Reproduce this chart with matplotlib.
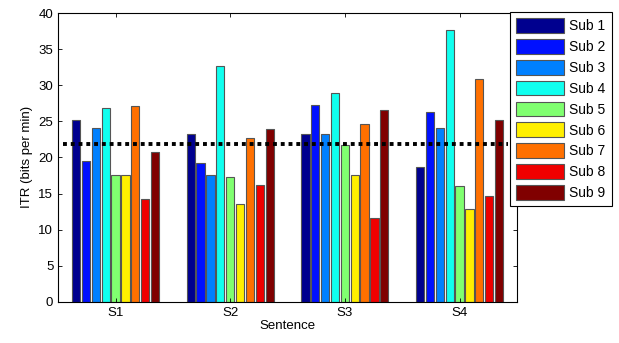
import matplotlib
matplotlib.use("Agg")
import matplotlib.pyplot as plt
import numpy as np

plt.rcParams["font.family"] = ["Liberation Sans", "DejaVu Sans"]

sentences = ["S1", "S2", "S3", "S4"]
subjects = ["Sub 1", "Sub 2", "Sub 3", "Sub 4", "Sub 5", "Sub 6", "Sub 7", "Sub 8", "Sub 9"]
# ITR per subject, one list per sentence
itr_s1 = [25.2, 19.5, 24.1, 26.9, 17.5, 17.6, 27.1, 14.2, 20.7]
itr_s2 = [23.3, 19.2, 17.5, 32.7, 17.3, 13.6, 22.7, 16.2, 24.0]
itr_s3 = [23.2, 27.2, 23.3, 28.9, 21.7, 17.5, 24.7, 11.6, 26.6]
itr_s4 = [18.7, 26.3, 24.1, 37.6, 16.1, 12.8, 30.8, 14.7, 25.2]
mean_itr = 21.8

colors = ["#00008F", "#0010FF", "#0080FF", "#10FFEF", "#80FF70",
          "#FFEF00", "#FF7000", "#EF0000", "#800000"]

data = np.array([itr_s1, itr_s2, itr_s3, itr_s4])

fig = plt.figure(figsize=(6.19, 3.43), dpi=100)
ax = fig.add_axes([0.094, 0.12, 0.741, 0.842])

x = np.arange(1, len(sentences) + 1)
pitch = 0.086
width = 0.072
for i, name in enumerate(subjects):
    ax.bar(x + (i - 4) * pitch, data[:, i], width, color=colors[i],
           edgecolor="#555555", linewidth=0.8, label=name)

ax.axhline(mean_itr, color="black", linestyle=(0, (1, 1)), linewidth=2.8,
           xmin=0.01, xmax=0.98)

ax.set_xlim(0.5, 4.5)
ax.set_ylim(0, 40)
ax.set_xticks(x)
ax.set_xticklabels(sentences)
ax.set_yticks(np.arange(0, 41, 5))
ax.tick_params(direction="in", top=True, right=True, labelsize=9.5,
               length=3, width=0.6)
for s in ax.spines.values():
    s.set_linewidth(0.8)
ax.set_xlabel("Sentence", fontsize=9.5, labelpad=1)
ax.set_ylabel("ITR (bits per min)", fontsize=9.5, labelpad=4)

leg = fig.legend(loc="upper left", bbox_to_anchor=(0.824, 0.965),
                 fontsize=10, handlelength=3.4, handleheight=1.25,
                 labelspacing=0.42, handletextpad=0.4, borderpad=0.45,
                 borderaxespad=0, fancybox=False, framealpha=1,
                 edgecolor="black")
leg.get_frame().set_linewidth(0.8)

plt.savefig("out.png", dpi=100)
plt.close()
